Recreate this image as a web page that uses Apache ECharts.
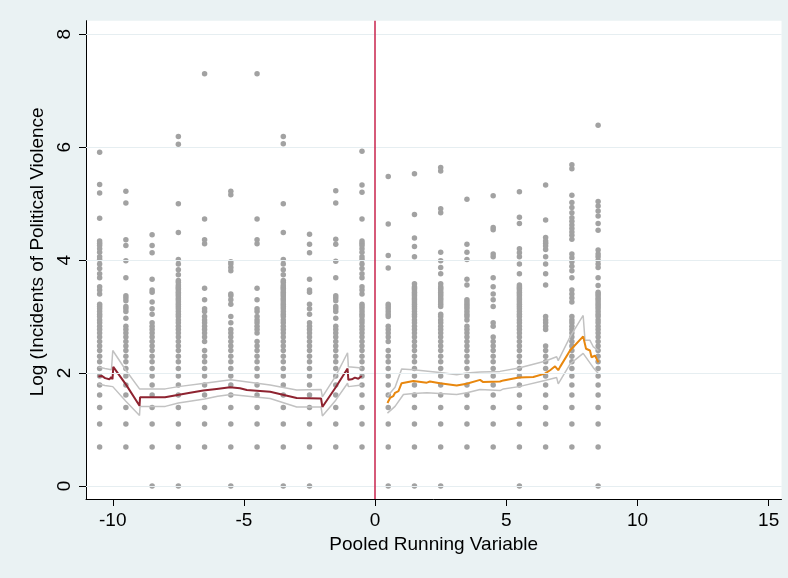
<!DOCTYPE html>
<html><head><meta charset="utf-8">
<script src="https://cdn.jsdelivr.net/npm/echarts@6/dist/echarts.min.js"></script>
<style>html,body{margin:0;padding:0;background:#eaf2f3}#c{width:788px;height:578px}</style>
</head><body><div id="c"></div><script>
// x positions of the scatter columns
var colX = [-10.5,-9.5,-8.5,-7.5,-6.5,-5.5,-4.5,-3.5,-2.5,-1.5,-0.5,0.5,1.5,2.5,3.5,4.5,5.5,6.5,7.5,8.5];
// y values (log incidents) per column
var colM10_5 = [0.69,1.10,1.39,1.61,1.79,1.95,2.08,2.20,2.30,2.40,2.48,2.56,2.64,2.71,2.77,2.83,2.89,2.94,3.00,3.04,3.09,3.14,3.18,3.22,3.40,3.47,3.53,3.69,3.76,3.85,3.93,4.01,4.06,4.14,4.20,4.26,4.30,4.34,4.74,5.19,5.34,5.91];
var colM9_5 = [0.69,1.10,1.39,1.61,1.79,1.95,2.08,2.20,2.30,2.40,2.48,2.56,2.64,2.71,2.77,2.83,2.97,3.09,3.14,3.18,3.28,3.33,3.37,3.69,3.99,4.26,4.36,5.01,5.22];
var colM8_5 = [0,0.69,1.10,1.39,1.61,1.79,1.95,2.08,2.20,2.30,2.40,2.48,2.56,2.64,2.71,2.77,2.83,2.89,3.04,3.14,3.26,3.43,3.47,3.66,4.13,4.26,4.45];
var colM7_5 = [0,0.69,1.10,1.39,1.61,1.79,1.95,2.08,2.20,2.30,2.40,2.48,2.56,2.64,2.71,2.77,2.83,2.89,2.94,3.00,3.04,3.09,3.14,3.18,3.22,3.26,3.30,3.33,3.37,3.40,3.43,3.47,3.50,3.53,3.56,3.61,3.64,3.74,3.83,3.93,4.01,4.49,5.00,6.05,6.19];
var colM6_5 = [0.69,1.10,1.39,1.61,1.79,1.95,2.08,2.20,2.30,2.40,2.56,2.64,2.71,2.77,2.83,2.89,2.94,3.00,3.09,3.14,3.30,3.50,4.29,4.36,4.73,7.30];
var colM5_5 = [0,0.69,1.10,1.39,1.61,1.79,1.95,2.08,2.20,2.30,2.40,2.48,2.56,2.64,2.71,2.77,2.89,3.00,3.22,3.30,3.37,3.40,3.81,3.87,3.93,3.97,5.16,5.22];
var colM4_5 = [0.69,1.10,1.39,1.61,1.79,1.95,2.08,2.20,2.30,2.40,2.48,2.56,2.71,2.77,2.83,2.89,2.94,3.00,3.09,3.14,3.30,3.50,4.29,4.36,4.73,7.30];
var colM3_5 = [0,0.69,1.10,1.39,1.61,1.79,1.95,2.08,2.20,2.30,2.40,2.48,2.56,2.64,2.71,2.77,2.83,2.89,2.94,3.00,3.04,3.09,3.14,3.18,3.22,3.26,3.30,3.33,3.37,3.40,3.43,3.47,3.50,3.53,3.56,3.61,3.64,3.74,3.83,3.93,4.01,4.49,5.00,6.06,6.19];
var colM2_5 = [0,0.69,1.10,1.39,1.61,1.79,1.95,2.08,2.20,2.30,2.40,2.48,2.56,2.64,2.71,2.77,2.83,2.89,3.04,3.14,3.22,3.43,3.47,3.66,4.13,4.28,4.46];
var colM1_5 = [0.69,1.10,1.39,1.61,1.79,1.95,2.08,2.20,2.30,2.40,2.48,2.56,2.64,2.71,2.77,2.83,2.97,3.09,3.14,3.18,3.28,3.33,3.37,3.69,3.98,4.28,4.37,5.01,5.23];
var colM0_5 = [0.69,1.10,1.39,1.61,1.79,1.95,2.08,2.20,2.30,2.40,2.48,2.56,2.64,2.71,2.77,2.83,2.89,2.94,3.00,3.04,3.09,3.14,3.18,3.22,3.40,3.47,3.53,3.69,3.76,3.85,3.93,4.01,4.06,4.14,4.20,4.26,4.30,4.34,4.73,5.20,5.33,5.93];
var colP0_5 = [0,0.69,1.10,1.39,1.61,1.79,1.95,2.08,2.20,2.30,2.40,2.56,2.64,2.71,2.77,2.83,3.00,3.04,3.09,3.14,3.18,3.22,3.86,4.08,4.64,5.48];
var colP1_5 = [0,0.69,1.10,1.39,1.61,1.79,1.95,2.08,2.20,2.30,2.40,2.48,2.56,2.64,2.71,2.77,2.83,2.89,2.94,3.00,3.04,3.09,3.14,3.18,3.22,3.26,3.30,3.33,3.37,3.40,3.43,3.47,3.50,3.53,3.58,4.06,4.24,4.39,4.81,5.53];
var colP2_5 = [0,0.69,1.10,1.39,1.61,1.79,1.95,2.08,2.20,2.30,2.40,2.48,2.56,2.64,2.71,2.77,2.83,2.89,2.94,3.00,3.04,3.18,3.22,3.26,3.30,3.33,3.37,3.40,3.43,3.47,3.50,3.53,3.58,3.76,3.87,3.99,4.14,4.84,4.91,5.58,5.64];
var colP3_5 = [0.69,1.10,1.39,1.61,1.79,1.95,2.08,2.20,2.30,2.40,2.48,2.56,2.64,2.71,2.77,2.83,2.94,3.00,3.04,3.09,3.14,3.18,3.22,3.26,3.30,3.56,3.66,4.01,4.14,4.28,5.08];
var colP4_5 = [0.69,1.10,1.39,1.61,1.79,1.95,2.08,2.20,2.30,2.40,2.48,2.56,2.64,2.83,2.89,3.18,3.30,3.40,3.53,3.69,4.06,4.11,4.54,4.58,5.14];
var colP5_5 = [0,0.69,1.10,1.39,1.61,1.79,1.95,2.08,2.20,2.30,2.40,2.48,2.56,2.64,2.71,2.77,2.83,2.89,2.94,3.00,3.04,3.09,3.14,3.18,3.22,3.26,3.30,3.33,3.37,3.40,3.43,3.47,3.50,3.53,3.56,3.76,3.93,4.06,4.13,4.20,4.65,4.76,5.21];
var colP6_5 = [0.69,1.10,1.39,1.61,1.79,1.95,2.08,2.20,2.30,2.40,2.48,2.77,2.83,2.89,2.94,3.00,3.56,3.76,3.93,4.06,4.19,4.25,4.30,4.34,4.40,4.71,5.33];
var colP7_5 = [0.69,1.10,1.39,1.61,1.79,1.95,2.08,2.20,2.30,2.40,2.48,2.56,2.64,2.71,2.77,2.83,2.89,2.94,3.00,3.26,3.33,3.40,3.47,3.69,3.81,3.89,3.97,4.04,4.11,4.37,4.44,4.50,4.56,4.62,4.69,4.75,4.84,4.93,5.02,5.15,5.62,5.69];
var colP8_5 = [0,0.69,1.10,1.39,1.61,1.79,1.95,2.08,2.20,2.30,2.40,2.48,2.56,2.64,2.71,2.77,2.83,2.89,2.94,3.00,3.04,3.09,3.14,3.18,3.22,3.26,3.30,3.33,3.37,3.40,3.43,3.55,3.69,3.87,3.93,4.00,4.06,4.11,4.18,4.53,4.65,4.78,4.87,4.96,5.04,6.39];
var colVals = [colM10_5,colM9_5,colM8_5,colM7_5,colM6_5,colM5_5,colM4_5,colM3_5,colM2_5,colM1_5,colM0_5,colP0_5,colP1_5,colP2_5,colP3_5,colP4_5,colP5_5,colP6_5,colP7_5,colP8_5];

// fitted line, left of cutoff: [x, y]
var leftFit = [[-10.55,1.94],[-10.42,1.95],[-10.29,1.91],[-10.23,1.94],[-10.13,1.89],[-10.06,1.93],[-10.01,1.89],[-9.98,2.11],[-9.5,1.80],[-8.98,1.42],[-8.96,1.57],[-8.01,1.57],[-7.94,1.55],[-7.05,1.65],[-6.55,1.69],[-6.04,1.72],[-5.53,1.75],[-5.15,1.73],[-4.89,1.70],[-4.0,1.67],[-2.99,1.56],[-2.06,1.55],[-2.01,1.40],[-1.5,1.75],[-1.05,2.08],[-1.02,1.88],[-0.89,1.89],[-0.77,1.92],[-0.64,1.90],[-0.51,1.95]];
var leftUpper = [[-10.55,2.11],[-10.3,2.08],[-10.05,2.06],[-10.0,2.40],[-9.5,2.05],[-8.98,1.72],[-8.96,1.72],[-8.0,1.72],[-7.5,1.76],[-6.5,1.82],[-6.0,1.85],[-5.5,1.88],[-4.64,1.83],[-4.0,1.79],[-2.99,1.70],[-2.06,1.71],[-2.01,1.58],[-1.5,1.95],[-1.05,2.36],[-1.02,2.11],[-0.51,2.09]];
var leftLower = [[-10.55,1.81],[-10.3,1.78],[-10.0,1.76],[-9.5,1.50],[-8.98,1.25],[-8.96,1.41],[-8.0,1.41],[-7.5,1.47],[-6.5,1.54],[-6.0,1.59],[-5.5,1.62],[-4.0,1.55],[-2.99,1.40],[-2.06,1.40],[-2.01,1.24],[-1.5,1.52],[-1.05,1.82],[-1.02,1.76],[-0.51,1.79]];
// fitted line, right of cutoff
var rightFit = [[0.47,1.47],[0.57,1.56],[0.69,1.59],[0.76,1.65],[0.89,1.68],[1.01,1.82],[1.08,1.85],[1.46,1.86],[1.97,1.83],[2.09,1.85],[2.47,1.82],[3.11,1.78],[3.49,1.81],[4.0,1.88],[4.12,1.84],[4.76,1.85],[4.89,1.87],[5.48,1.92],[6.03,1.93],[6.47,1.99],[6.67,2.05],[6.86,2.12],[6.92,2.13],[6.98,2.05],[7.05,2.11],[7.43,2.40],[7.93,2.65],[8.0,2.64],[8.04,2.43],[8.19,2.40],[8.25,2.28],[8.38,2.31],[8.51,2.19]];
var rightUpper = [[0.47,1.59],[0.76,1.75],[1.01,2.07],[1.46,2.06],[2.47,2.01],[3.11,1.97],[3.5,2.00],[4.0,2.02],[4.76,2.03],[5.48,2.09],[6.47,2.21],[6.92,2.29],[6.98,2.22],[7.43,2.64],[7.93,3.02],[8.0,2.58],[8.19,2.58],[8.31,2.47],[8.51,2.40]];
var rightLower = [[0.47,1.29],[0.76,1.41],[1.08,1.62],[1.46,1.64],[1.97,1.65],[3.11,1.62],[3.5,1.65],[4.0,1.71],[4.76,1.69],[4.89,1.72],[5.48,1.76],[6.47,1.87],[6.92,1.92],[6.98,1.81],[7.43,2.16],[7.93,2.35],[8.0,2.35],[8.31,2.10],[8.51,1.99]];

var xTicks = [-10,-5,0,5,10,15];
var yTicks = [0,2,4,6,8];
var cutoff = 0;

var pts = [];
colX.forEach(function(x,i){ colVals[i].forEach(function(v){ pts.push([x,v]); }); });

var FONT = 'Liberation Sans, Arial, Helvetica, sans-serif';
var FS = 19;
var chart = echarts.init(document.getElementById('c'), null, {renderer:'canvas'});
function lineSeries(data, color, width, z){
  return {type:'line', data:data, symbol:'none', silent:true, z:z, animation:false,
    lineStyle:{color:color, width:width}, itemStyle:{color:color}};
}
chart.setOption({
  backgroundColor:'#eaf2f3',
  animation:false,
  grid:{left:86, right:6.5, top:20.7, bottom:79, show:true, backgroundColor:'#ffffff', borderWidth:0, outerBoundsMode:'none', containLabel:false},
  xAxis:{type:'value', min:-11.02, max:15.49,
    name:'Pooled Running Variable', nameLocation:'middle', nameGap:35,
    nameTextStyle:{fontFamily:FONT, fontSize:FS, color:'#000'},
    axisLine:{show:true, onZero:false, lineStyle:{color:'#000', width:1}},
    axisTick:{show:true, inside:false, length:7, customValues:xTicks, lineStyle:{color:'#000'}},
    axisLabel:{show:true, customValues:xTicks, margin:12, fontFamily:FONT, fontSize:FS, color:'#000'},
    splitLine:{show:false}},
  yAxis:{type:'value', min:-0.23, max:8.24,
    name:'Log (Incidents of Political Violence', nameLocation:'middle', nameGap:37,
    nameTextStyle:{fontFamily:FONT, fontSize:FS, color:'#000', padding:[0,0,0,16]},
    axisLine:{show:true, onZero:false, lineStyle:{color:'#000', width:1}},
    axisTick:{show:true, inside:false, length:7, customValues:yTicks, lineStyle:{color:'#000'}},
    axisLabel:{show:true, customValues:yTicks, rotate:90, margin:12, fontFamily:FONT, fontSize:FS, color:'#000'},
    splitLine:{show:false}},
  series:[
    {type:'scatter', data:[], silent:true, z:1,
      markLine:{silent:true, symbol:'none', label:{show:false}, animation:false,
        lineStyle:{color:'#e6eef1', width:1.2, type:'solid'},
        data: yTicks.map(function(v){return {yAxis:v};})}},
    {type:'scatter', data:pts, symbolSize:5.5, silent:true, z:2, animation:false,
      itemStyle:{color:'#a2a2a2', opacity:1}},
    lineSeries(leftUpper,'#c2c2c2',1.5,3),
    lineSeries(leftLower,'#c2c2c2',1.5,3),
    lineSeries(rightUpper,'#c2c2c2',1.5,3),
    lineSeries(rightLower,'#c2c2c2',1.5,3),
    lineSeries(leftFit,'#8e2330',2,4),
    lineSeries(rightFit,'#e8870e',2,4),
    {type:'scatter', data:[], silent:true, z:5,
      markLine:{silent:true, symbol:'none', label:{show:false}, animation:false,
        lineStyle:{color:'#c8234d', width:1.5, type:'solid'},
        data:[{xAxis:cutoff}]}}
  ]
});
</script></body></html>
